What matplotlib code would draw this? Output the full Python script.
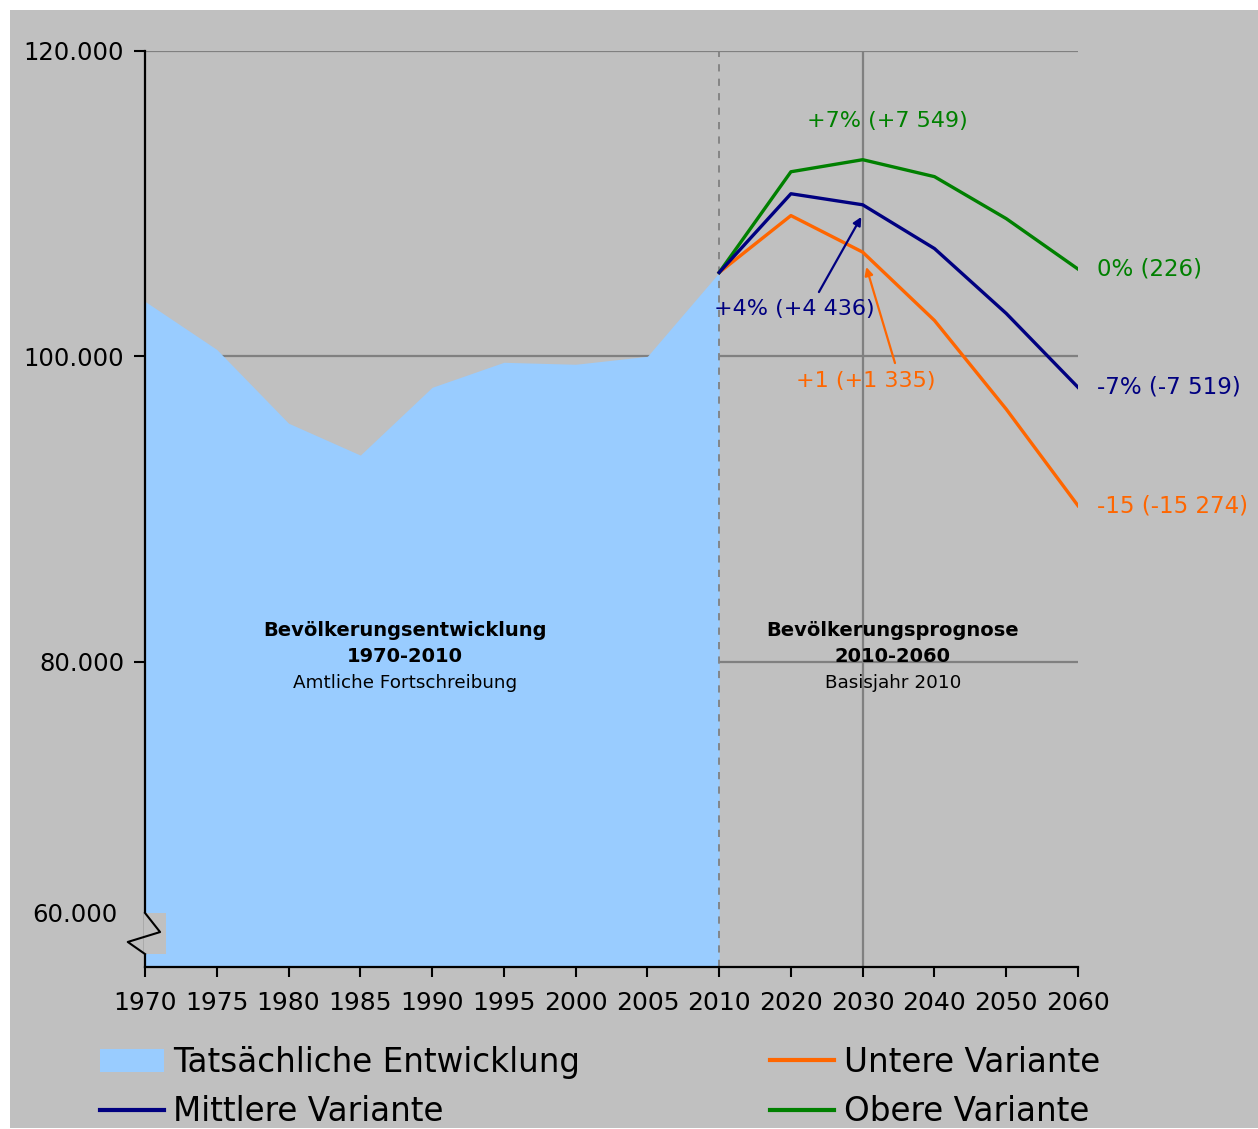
import matplotlib
matplotlib.use('Agg')
import matplotlib.pyplot as plt
from matplotlib.patches import Rectangle, Patch
from matplotlib.lines import Line2D

# Kategorien der x-Achse (gleichabständig)
jahre = ['1970', '1975', '1980', '1985', '1990', '1995', '2000', '2005',
         '2010', '2020', '2030', '2040', '2050', '2060']

# Tatsächliche Entwicklung 1970-2010
ist = [103600, 100450, 95620, 93530, 97970, 99610, 99480, 100000, 105490]

# Prognosevarianten 2010-2060
mittel = [105490, 110650, 109926, 107060, 102810, 97971]
unten = [105490, 109220, 106825, 102350, 96540, 90216]
oben = [105490, 112090, 112880, 111770, 109020, 105716]

GRAU = '#C0C0C0'
BLAU = '#99CCFF'
GRUEN = '#008000'
NAVY = '#000080'
ORANGE = '#FF6600'

plt.rcParams['font.family'] = ['DejaVu Sans']

fig = plt.figure(figsize=(12.58, 11.29), dpi=100, facecolor='white')
fig.patches.append(Rectangle((10 / 1258, 1 / 1129), 1 - 10 / 1258, 1 - 11 / 1129,
                             transform=fig.transFigure, facecolor=GRAU,
                             edgecolor='none', zorder=-10))

ax = fig.add_axes([145 / 1258, 1 - 967 / 1129, 933 / 1258, 916 / 1129])
ax.set_facecolor(GRAU)

x_ist = list(range(len(ist)))
x_prog = list(range(8, 8 + len(mittel)))

# Gitterlinien
for y in [80000, 100000, 120000]:
    ax.axhline(y, color='#808080', lw=1.6, zorder=1)
ax.axvline(10, color='#808080', lw=1.6, zorder=1)

ax.fill_between(x_ist, 60000, ist, color=BLAU, lw=0, zorder=2)
ax.axvline(8, color='#808080', lw=1.3, ls=(0, (4, 4)), zorder=3)

ax.plot(x_prog, unten, color=ORANGE, lw=2.4, zorder=4)
ax.plot(x_prog, mittel, color=NAVY, lw=2.4, zorder=5)
ax.plot(x_prog, oben, color=GRUEN, lw=2.4, zorder=4)

ax.set_xlim(0, 13)
ax.set_ylim(60000, 120000)
ax.set_xticks(range(len(jahre)))
ax.set_xticklabels(jahre, fontsize=18)
ax.set_yticks([80000, 100000, 120000])
ax.set_yticklabels(['80.000', '100.000', '120.000'], fontsize=17.5)
ax.tick_params(axis='x', length=7, width=1.5, pad=10)
ax.tick_params(axis='y', length=8, width=1.5, pad=7)
for s in ['top', 'right']:
    ax.spines[s].set_visible(False)
for s in ['left', 'bottom']:
    ax.spines[s].set_linewidth(1.6)
    ax.spines[s].set_zorder(6)

# Achsenbruch unten links
ax.add_patch(Rectangle((-0.01, 60850), 0.3, 2700, facecolor=GRAU, edgecolor='none',
                       zorder=7, clip_on=False))
ax.plot([0, 0.21, -0.24, 0], [63540, 62290, 61640, 60850], color='black', lw=1.5,
        zorder=8, clip_on=False)
ax.text(-0.39, 63400, '60.000', fontsize=17.5, ha='right', va='center')

# Beschriftungen der Varianten
ax.text(10.35, 115415, '+7% (+7 549)', color=GRUEN, fontsize=16, ha='center', va='center')
ax.text(13.26, oben[-1], '0% (226)', color=GRUEN, fontsize=16.5, ha='left', va='center')
ax.text(13.26, mittel[-1], '-7% (-7 519)', color=NAVY, fontsize=16.5, ha='left', va='center')
ax.text(13.26, unten[-1], '-15 (-15 274)', color=ORANGE, fontsize=16.5, ha='left', va='center')

ax.text(7.93, 103100, '+4% (+4 436)', color=NAVY, fontsize=16, ha='left', va='center', zorder=9)
ax.annotate('', xy=(9.98, 109130), xytext=(9.39, 104210),
            arrowprops=dict(arrowstyle='-|>', color=NAVY, lw=1.6, mutation_scale=12,
                            shrinkA=0, shrinkB=0), zorder=9)
ax.text(9.07, 98380, '+1 (+1 335)', color=ORANGE, fontsize=16, ha='left', va='center', zorder=9)
ax.annotate('', xy=(10.05, 105850), xytext=(10.45, 99560),
            arrowprops=dict(arrowstyle='-|>', color=ORANGE, lw=1.6, mutation_scale=12,
                            shrinkA=0, shrinkB=0), zorder=9)

# Abschnittstitel
ax.text(3.62, 82010, 'Bevölkerungsentwicklung', fontsize=14, fontweight='bold', ha='center', va='center')
ax.text(3.62, 80310, '1970-2010', fontsize=14, fontweight='bold', ha='center', va='center')
ax.text(3.62, 78600, 'Amtliche Fortschreibung', fontsize=13.2, ha='center', va='center')
ax.text(10.42, 82010, 'Bevölkerungsprognose', fontsize=14, fontweight='bold', ha='center', va='center')
ax.text(10.42, 80310, '2010-2060', fontsize=14, fontweight='bold', ha='center', va='center')
ax.text(10.42, 78600, 'Basisjahr 2010', fontsize=13.2, ha='center', va='center')

handles = [Patch(facecolor=BLAU, edgecolor='none'),
           Line2D([], [], color=NAVY, lw=3),
           Line2D([], [], color=ORANGE, lw=3),
           Line2D([], [], color=GRUEN, lw=3)]
labels = ['Tatsächliche Entwicklung', 'Mittlere Variante', 'Untere Variante', 'Obere Variante']
fig.legend(handles, labels, ncol=2, loc='upper left', bbox_to_anchor=(100 / 1258, 1 - 1046 / 1129),
           frameon=False, fontsize=23.5, handlelength=1.95, handleheight=0.74, handletextpad=0.3,
           columnspacing=5.81, labelspacing=0.5, borderpad=0, borderaxespad=0)

fig.savefig('out.png', dpi=100, facecolor=fig.get_facecolor())
plt.close(fig)
